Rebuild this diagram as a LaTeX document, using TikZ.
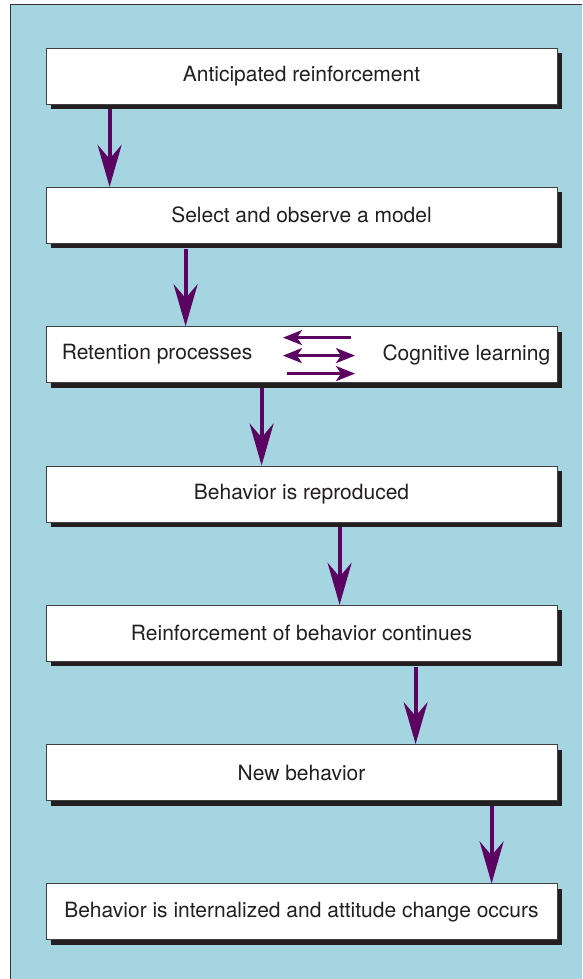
\documentclass[tikz,border=0pt]{standalone}
\usepackage{fontspec}
\setmainfont{TeX Gyre Heros}
\usepackage{tikz}
\definecolor{panel}{RGB}{166,213,226}
\definecolor{plum}{RGB}{92,4,98}
\definecolor{shade}{RGB}{35,31,32}
\usetikzlibrary{arrows.meta,positioning,shadows}
\tikzstyle{stage}=[rectangle,draw=black!75,line width=0.8pt,fill=white,text=shade,
		minimum width=511pt,minimum height=56pt,inner sep=0pt,font=\fontsize{21}{25}\selectfont,
		drop shadow={shadow xshift=5pt,shadow yshift=-5pt,fill=shade,opacity=1}]
\tikzstyle{flow}=[line width=4pt,draw=plum,-{Stealth[length=42pt,width=24pt,inset=14pt]}]
\tikzstyle{swap}=[line width=2.8pt,draw=plum,>={Stealth[length=19pt,width=15pt,inset=5pt]}]

\begin{document}
\begin{tikzpicture}[x=1pt,y=-1pt,node distance=82.5pt]
			\useasboundingbox (0,0) rectangle (582,979);
			\fill[panel] (10,5) rectangle (582,979);
			\draw[black!80,line width=1pt] (10,979) -- (10,5) -- (582,5);

			\node[stage] (b1) at (301.5,76) {Anticipated reinforcement};
			\node[stage, below=of b1] (b2) {Select and observe a model};
			\node[stage, below=of b2] (b3) {};
			\node[stage, below=of b3] (b4) {Behavior is reproduced};
			\node[stage, below=of b4] (b5) {Reinforcement of behavior continues};
			\node[stage, below=of b5] (b6) {New behavior};
			\node[stage, below=of b6] (b7) {Behavior is internalized and attitude change occurs};

			\node[anchor=west,inner sep=0pt,text=shade,font=\fontsize{21}{25}\selectfont]
				(ret) at ([xshift=16pt]b3.west) {Retention processes};
			\node[anchor=east,inner sep=0pt,text=shade,font=\fontsize{21}{25}\selectfont]
				(cog) at ([xshift=-7pt]b3.east) {Cognitive learning};

			\draw[swap,<-] ([xshift=-18.5pt,yshift=17pt]b3.center) -- ([xshift=49.5pt,yshift=17pt]b3.center);
			\draw[swap,<->] ([xshift=-18.5pt,yshift=-1pt]b3.center) -- ([xshift=53.5pt,yshift=-1pt]b3.center);
			\draw[swap,->] ([xshift=-14.5pt,yshift=-19pt]b3.center) -- ([xshift=53.5pt,yshift=-19pt]b3.center);

			\foreach \a/\b/\dx in {b1/b2/64,b2/b3/140,b3/b4/216,b4/b5/294,b5/b6/370,b6/b7/446}
				\draw[flow] ([xshift=\dx pt,yshift=-5pt]\a.south west) -- ([xshift=\dx pt]\b.north west);
		\end{tikzpicture}
\end{document}
